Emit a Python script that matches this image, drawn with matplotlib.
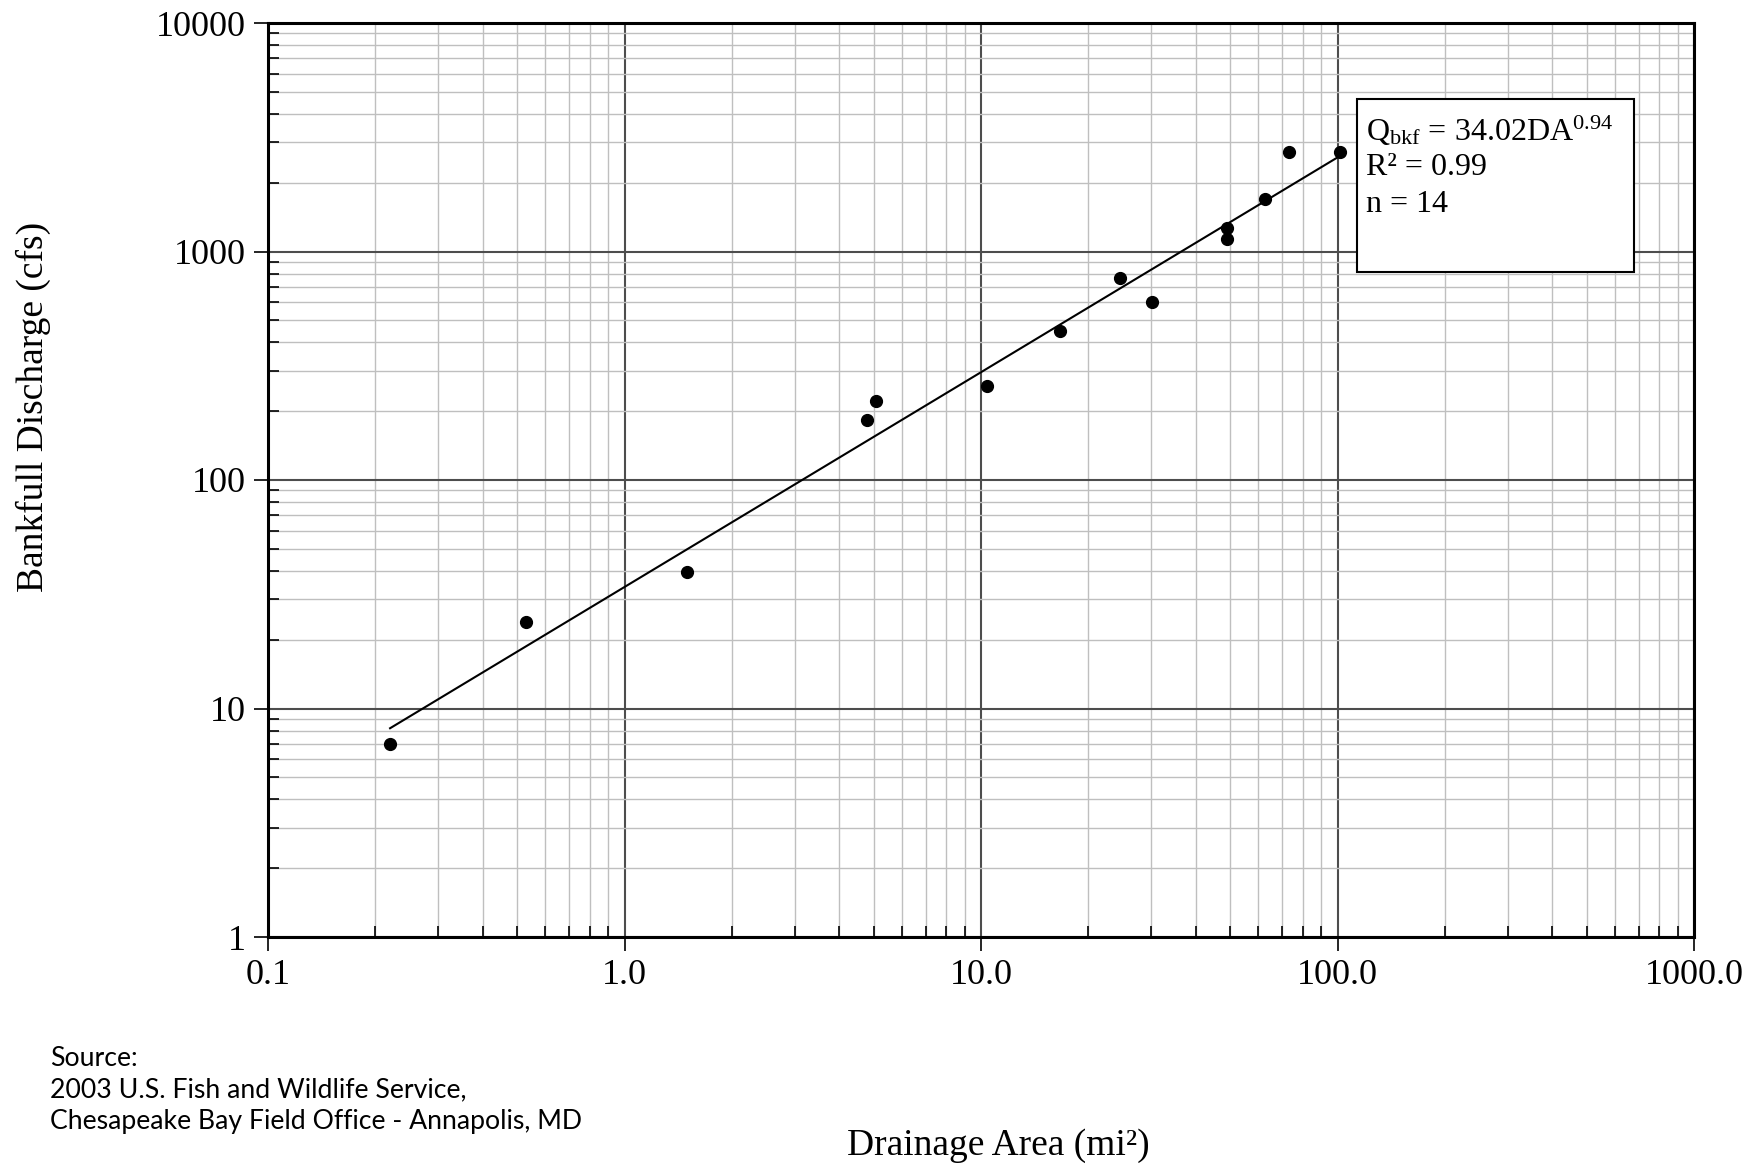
import numpy as np
import matplotlib
matplotlib.use("Agg")
import matplotlib.pyplot as plt
from matplotlib.ticker import LogLocator, FixedLocator, NullFormatter

serif = "Liberation Serif"
plt.rcParams["mathtext.fontset"] = "custom"
plt.rcParams["mathtext.rm"] = serif
plt.rcParams["mathtext.it"] = serif + ":italic"
plt.rcParams["mathtext.default"] = "rm"

# drainage area (mi^2) and bankfull discharge (cfs)
drainage_area = [0.22, 0.53, 1.50, 4.79, 5.07, 10.4, 16.7, 24.5, 30.2, 48.9, 48.9, 62.5, 73.3, 101.6]
discharge = [7.0, 23.9, 39.7, 183, 222, 258, 449, 764, 603, 1272, 1136, 1689, 2718, 2718]

# regression Q = a * DA^b
coef_a = 34.02
coef_b = 0.94
r_squared = 0.99

x_ticks = [0.1, 1, 10, 100, 1000]
x_tick_labels = ["0.1", "1.0", "10.0", "100.0", "1000.0"]
y_ticks = [1, 10, 100, 1000, 10000]
y_tick_labels = ["1", "10", "100", "1000", "10000"]

fig = plt.figure(figsize=(17.62, 11.68), dpi=100)
ax = fig.add_axes([268 / 1762, 1 - 937 / 1168, (1694 - 268) / 1762, (937 - 23) / 1168])

ax.set_xscale("log")
ax.set_yscale("log")
ax.set_xlim(0.1, 1000)
ax.set_ylim(1, 10000)

# grid
ax.grid(which="minor", color="#bfbfbf", linewidth=1.0)
ax.grid(which="major", color="#4d4d4d", linewidth=1.5)
ax.set_axisbelow(True)

# regression line over the data range
xl = np.logspace(np.log10(min(drainage_area)), np.log10(max(drainage_area)), 50)
ax.plot(xl, coef_a * xl ** coef_b, color="black", linewidth=1.5, zorder=3)

ax.plot(drainage_area, discharge, "o", color="black", markersize=8.5, zorder=4)

for s in ax.spines.values():
    s.set_linewidth(2.2)
    s.set_color("black")

ax.xaxis.set_major_locator(FixedLocator(x_ticks))
ax.set_xticklabels(x_tick_labels)
ax.yaxis.set_major_locator(FixedLocator(y_ticks))
ax.set_yticklabels(y_tick_labels)
ax.xaxis.set_minor_locator(LogLocator(base=10, subs=np.arange(2, 10)))
ax.yaxis.set_minor_locator(LogLocator(base=10, subs=np.arange(2, 10)))
ax.xaxis.set_minor_formatter(NullFormatter())
ax.yaxis.set_minor_formatter(NullFormatter())

ax.tick_params(which="major", direction="out", length=10, width=1.2, pad=6)
ax.tick_params(which="minor", direction="in", length=8, width=1.2)
for lab in ax.get_xticklabels() + ax.get_yticklabels():
    lab.set_fontfamily(serif)
    lab.set_fontsize(26)

fig.text(33 / 1762, 1 - 407 / 1168, "Bankfull Discharge (cfs)", fontfamily=serif,
         fontsize=27, rotation=90, ha="center", va="center")
fig.text(998 / 1762, 1 - 1146 / 1168, "Drainage Area (mi\u00b2)", fontfamily=serif,
         fontsize=27, ha="center", va="center")

# equation box
box = plt.Rectangle((1357 / 1762, 1 - 272 / 1168), (1634 - 1357) / 1762, (272 - 99) / 1168,
                    transform=fig.transFigure, facecolor="white", edgecolor="black",
                    linewidth=1.5, zorder=5)
fig.patches.append(box)
eq_lines = ["Q$_{\\rm bkf}$ = %.2fDA$^{%.2f}$" % (coef_a, coef_b),
            "R\u00b2 = %.2f" % r_squared,
            "n = %d" % len(drainage_area)]
for i, t in enumerate(eq_lines):
    fig.text(1366 / 1762, 1 - (131 + i * 36.5) / 1168, t, fontfamily=serif, fontsize=23,
             ha="left", va="center", zorder=6)

fig.text(50 / 1762, 1 - 1090 / 1168,
         "Source:\n2003 U.S. Fish and Wildlife Service,\nChesapeake Bay Field Office - Annapolis, MD",
         fontfamily="Lato", fontsize=19.2, ha="left", va="center", linespacing=1.32)

fig.savefig("out.png", dpi=100)
